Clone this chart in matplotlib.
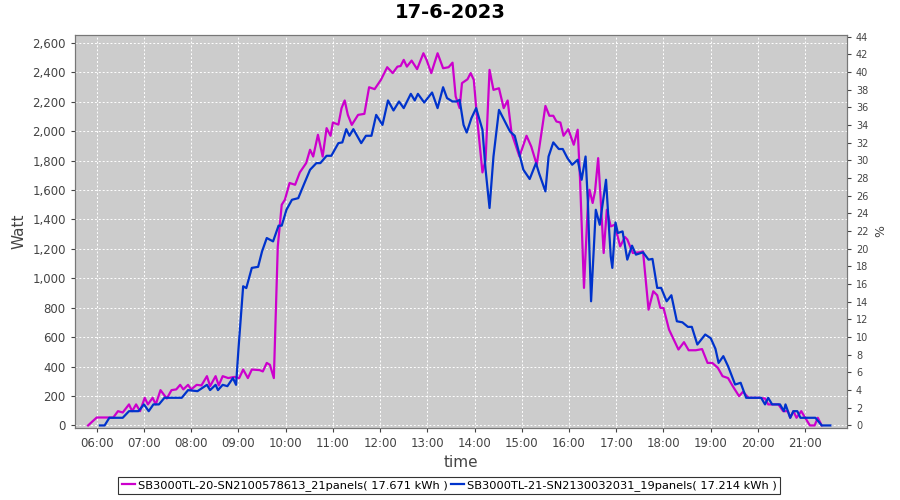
import matplotlib
matplotlib.use("Agg")
import matplotlib.pyplot as plt
import matplotlib.dates as mdates
from matplotlib.ticker import FuncFormatter, MultipleLocator
import pandas as pd

day = "2023-06-17"

# SB3000TL-20 (magenta)
t1 = ["05:49", "06:00", "06:21", "06:27", "06:33", "06:41", "06:45", "06:50", "06:55", "07:01",
      "07:05", "07:11", "07:15", "07:21", "07:29", "07:35", "07:41", "07:46", "07:50", "07:56",
      "08:00", "08:07", "08:13", "08:20", "08:24", "08:31", "08:35", "08:40", "08:47", "08:55",
      "09:01", "09:06", "09:12", "09:17", "09:27", "09:31", "09:36", "09:40", "09:45", "09:50",
      "09:55", "09:59", "10:05", "10:12", "10:18", "10:26", "10:31", "10:35", "10:41", "10:47",
      "10:52", "10:57", "11:00", "11:07", "11:11", "11:15", "11:19", "11:24", "11:32", "11:40",
      "11:46", "11:53", "12:01", "12:09", "12:16", "12:22", "12:26", "12:30", "12:34", "12:40",
      "12:47", "12:55", "12:59", "13:05", "13:13", "13:20", "13:27", "13:32", "13:36", "13:41",
      "13:44", "13:51", "13:55", "13:59", "14:03", "14:10", "14:14", "14:19", "14:24", "14:31",
      "14:37", "14:42", "14:47", "14:57", "15:06", "15:12", "15:19", "15:30", "15:35", "15:40",
      "15:44", "15:49", "15:53", "15:59", "16:06", "16:11", "16:14", "16:19", "16:24", "16:26",
      "16:30", "16:33", "16:37", "16:40", "16:44", "16:48", "16:53", "16:58", "17:05", "17:11",
      "17:14", "17:21", "17:30", "17:34", "17:41", "17:47", "17:52", "17:56", "18:00", "18:07",
      "18:13", "18:19", "18:26", "18:32", "18:41", "18:49", "18:56", "19:02", "19:09", "19:15",
      "19:22", "19:28", "19:36", "19:41", "19:48", "20:02", "20:09", "20:13", "20:26", "20:32",
      "20:38", "20:41", "20:45", "20:49", "20:55", "21:00", "21:06", "21:12", "21:16", "21:21"]
w1 = [0, 54, 54, 97, 88, 143, 97, 143, 97, 188,
      143, 188, 143, 240, 183, 240, 245, 276, 245, 276,
      245, 276, 272, 335, 267, 335, 272, 335, 322, 330,
      322, 380, 322, 380, 376, 367, 425, 412, 322, 1217,
      1500, 1534, 1648, 1636, 1720, 1783, 1874, 1828, 1976, 1828,
      2021, 1969, 2059, 2045, 2157, 2209, 2111, 2043, 2111, 2118,
      2299, 2286, 2349, 2435, 2395, 2439, 2443, 2485, 2439, 2480,
      2422, 2530, 2485, 2395, 2530, 2428, 2435, 2466, 2236, 2157,
      2327, 2353, 2395, 2349, 2100, 1720, 1806, 2417, 2281, 2292,
      2157, 2209, 1987, 1828, 1969, 1896, 1772, 2172, 2105, 2105,
      2066, 2059, 1969, 2014, 1908, 2010, 1670, 935, 1512, 1602,
      1512, 1590, 1817, 1557, 1172, 1466, 1353, 1364, 1217, 1281,
      1264, 1172, 1177, 1183, 787, 912, 885, 799, 799, 652,
      584, 516, 566, 511, 511, 519, 425, 425, 392, 335,
      322, 267, 199, 229, 188, 188, 183, 143, 143, 97,
      97, 52, 97, 52, 97, 52, 0, 0, 52, 0]

# SB3000TL-21 (blue)
t2 = ["06:04", "06:10", "06:16", "06:33", "06:41", "06:53", "07:00", "07:06", "07:12", "07:19",
      "07:26", "07:48", "07:56", "08:08", "08:20", "08:24", "08:31", "08:34", "08:40", "08:46",
      "08:53", "08:57", "09:00", "09:06", "09:10", "09:17", "09:25", "09:30", "09:36", "09:44",
      "09:51", "09:55", "10:01", "10:08", "10:16", "10:23", "10:31", "10:39", "10:44", "10:52",
      "10:58", "11:07", "11:12", "11:17", "11:21", "11:26", "11:36", "11:42", "11:49", "11:55",
      "12:03", "12:10", "12:17", "12:24", "12:30", "12:39", "12:44", "12:48", "12:56", "13:06",
      "13:13", "13:20", "13:25", "13:32", "13:37", "13:41", "13:46", "13:50", "13:56", "14:02",
      "14:10", "14:14", "14:19", "14:24", "14:31", "14:37", "14:45", "14:51", "15:02", "15:10",
      "15:18", "15:22", "15:30", "15:34", "15:40", "15:47", "15:52", "15:58", "16:04", "16:11",
      "16:16", "16:21", "16:24", "16:28", "16:34", "16:39", "16:47", "16:53", "16:55", "16:59",
      "17:02", "17:08", "17:14", "17:20", "17:25", "17:34", "17:41", "17:46", "17:52", "17:57",
      "18:04", "18:10", "18:17", "18:24", "18:31", "18:36", "18:43", "18:53", "19:00", "19:06",
      "19:10", "19:16", "19:22", "19:31", "19:38", "19:45", "20:04", "20:09", "20:13", "20:18",
      "20:28", "20:33", "20:35", "20:41", "20:45", "20:50", "20:54", "21:13", "21:21", "21:32"]
w2 = [0, 0, 52, 52, 97, 97, 143, 97, 143, 143,
      188, 188, 240, 233, 276, 240, 276, 240, 276, 267,
      322, 276, 516, 946, 934, 1071, 1078, 1183, 1274, 1251,
      1358, 1358, 1466, 1534, 1545, 1636, 1738, 1783, 1783, 1833,
      1833, 1919, 1924, 2014, 1969, 2014, 1919, 1969, 1969, 2111,
      2043, 2209, 2141, 2202, 2157, 2254, 2209, 2254, 2195, 2263,
      2157, 2299, 2225, 2202, 2202, 2213, 2043, 1991, 2089, 2157,
      2010, 1738, 1478, 1828, 2145, 2082, 1998, 1969, 1738, 1675,
      1783, 1713, 1591, 1828, 1924, 1879, 1879, 1817, 1772, 1806,
      1670, 1828, 1512, 844, 1466, 1364, 1670, 1149, 1071, 1380,
      1308, 1319, 1127, 1222, 1161, 1177, 1127, 1132, 935, 935,
      844, 885, 708, 701, 670, 670, 550, 618, 593, 521,
      425, 471, 403, 278, 290, 188, 188, 143, 188, 143,
      143, 97, 143, 52, 97, 97, 52, 52, 0, 0]

label1 = "SB3000TL-20-SN2100578613_21panels( 17.671 kWh )"
label2 = "SB3000TL-21-SN2130032031_19panels( 17.214 kWh )"

x1 = pd.to_datetime([day + " " + t for t in t1])
x2 = pd.to_datetime([day + " " + t for t in t2])

fig = plt.figure(figsize=(9, 5), dpi=100)
ax = fig.add_axes([0.083, 0.145, 0.858, 0.785])
ax.set_facecolor("#cccccc")

ax.plot(x1, w1, color="#cc00cc", lw=1.6, label=label1)
ax.plot(x2, w2, color="#0033cc", lw=1.6, label=label2)

ax.set_xlim(pd.Timestamp(day + " 05:32"), pd.Timestamp(day + " 21:53"))
ax.set_ylim(-14, 2654)
ax.yaxis.set_major_locator(MultipleLocator(200))
ax.yaxis.set_major_formatter(FuncFormatter(lambda v, p: f"{int(v):,}"))
ax.xaxis.set_major_locator(mdates.HourLocator())
ax.xaxis.set_major_formatter(mdates.DateFormatter("%H:%M"))
ax.grid(True, color="white", linestyle=(0, (2, 2)), lw=0.7)
ax.set_axisbelow(True)
ax.tick_params(labelsize=8.5, colors="#444444", length=3)
for s in ax.spines.values():
    s.set_color("#777777")

ax.set_xlabel("time", fontsize=11, color="#444444")
ax.set_ylabel("Watt", fontsize=11, color="#444444")
fig.suptitle("17-6-2023", x=0.5, y=0.995, fontsize=14, fontweight="bold")

ax2 = ax.twinx()
ax2.set_ylim(-0.23, 44.2)
ax2.yaxis.set_major_locator(MultipleLocator(2))
ax2.tick_params(labelsize=7, colors="#444444", length=3)
ax2.set_ylabel("%", fontsize=9, color="#444444")
for s in ax2.spines.values():
    s.set_color("#777777")

leg = fig.legend(loc="lower center", bbox_to_anchor=(0.499, 0.0), ncol=2, fontsize=8.2,
                 frameon=True, fancybox=False, edgecolor="black", handlelength=1.2,
                 handletextpad=0.2, columnspacing=0.3, borderpad=0.3)
leg.get_frame().set_linewidth(0.8)

fig.savefig("out.png", dpi=100)
